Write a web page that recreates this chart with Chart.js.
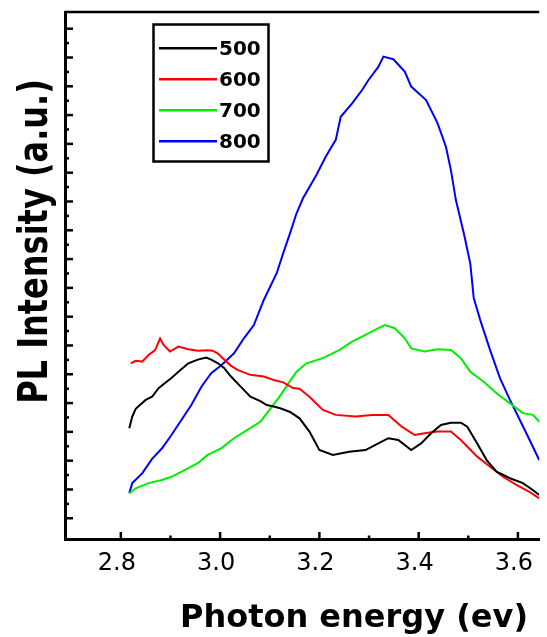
<!DOCTYPE html>
<html><head><meta charset="utf-8">
<script src="https://cdn.jsdelivr.net/npm/chart.js@4.4.1/dist/chart.umd.min.js"></script>
<style>html,body{margin:0;padding:0;background:#fff;overflow:hidden}</style>
</head><body>
<canvas id="c" width="547" height="637"></canvas>
<script>
const seriesLabels = ['500', '600', '700', '800'];
const seriesColors = ['#000000', '#ff0000', '#00ee00', '#0000ff'];

const energy500 = [2.817,2.823,2.830,2.850,2.863,2.876,2.889,2.902,2.916,2.936,2.955,2.972,2.982,2.995,3.008,3.021,3.041,3.061,3.081,3.094,3.108,3.121,3.141,3.160,3.180,3.200,3.227,3.260,3.293,3.313,3.339,3.359,3.385,3.405,3.425,3.445,3.465,3.485,3.498,3.518,3.537,3.557,3.584,3.610,3.630,3.643];
const intensity500 = [3.13,3.53,3.80,4.11,4.22,4.52,4.70,4.87,5.09,5.38,5.51,5.58,5.51,5.39,5.22,4.94,4.58,4.22,4.07,3.93,3.88,3.82,3.69,3.47,3.01,2.37,2.20,2.31,2.37,2.55,2.78,2.72,2.37,2.60,2.95,3.24,3.32,3.32,3.18,2.60,2.02,1.62,1.39,1.22,0.98,0.81];

const energy600 = [2.820,2.830,2.843,2.856,2.869,2.879,2.886,2.899,2.916,2.936,2.955,2.975,2.985,2.995,3.007,3.021,3.035,3.061,3.088,3.108,3.127,3.147,3.160,3.180,3.207,3.233,3.273,3.306,3.339,3.366,3.392,3.412,3.438,3.465,3.485,3.518,3.544,3.570,3.597,3.623,3.643];
const intensity600 = [5.38,5.47,5.44,5.67,5.84,6.24,6.02,5.79,5.96,5.87,5.82,5.83,5.82,5.73,5.53,5.31,5.15,4.98,4.92,4.80,4.72,4.52,4.50,4.22,3.76,3.59,3.53,3.59,3.59,3.18,2.89,2.95,3.01,3.01,2.72,2.14,1.79,1.44,1.16,0.92,0.69];

const energy700 = [2.817,2.830,2.856,2.883,2.902,2.936,2.955,2.975,3.002,3.028,3.055,3.081,3.101,3.118,3.134,3.154,3.174,3.207,3.240,3.266,3.293,3.319,3.332,3.352,3.372,3.385,3.412,3.438,3.465,3.485,3.504,3.531,3.557,3.584,3.610,3.630,3.643];
const intensity700 = [0.87,1.04,1.22,1.33,1.44,1.74,1.91,2.20,2.43,2.78,3.07,3.35,3.80,4.18,4.59,5.09,5.38,5.56,5.84,6.13,6.37,6.60,6.71,6.60,6.25,5.90,5.79,5.87,5.84,5.56,5.09,4.74,4.34,3.99,3.65,3.59,3.35];

const energy800 = [2.817,2.823,2.843,2.863,2.883,2.902,2.922,2.942,2.962,2.982,3.003,3.028,3.048,3.068,3.088,3.114,3.127,3.141,3.154,3.167,3.194,3.213,3.233,3.243,3.266,3.286,3.299,3.319,3.329,3.349,3.372,3.385,3.415,3.438,3.455,3.465,3.475,3.491,3.504,3.511,3.524,3.544,3.564,3.584,3.617,3.643];
const intensity800 = [0.87,1.22,1.56,2.06,2.43,2.89,3.41,3.93,4.56,5.04,5.32,5.73,6.25,6.71,7.58,8.51,9.20,9.90,10.59,11.11,11.92,12.56,13.14,13.94,14.41,14.87,15.22,15.68,16.03,15.94,15.51,14.99,14.52,13.72,12.90,12.09,11.05,9.90,8.85,7.65,6.89,5.84,4.86,4.11,2.95,2.02];

const xTickValues = [2.8, 3.0, 3.2, 3.4, 3.6];
const xMinorValues = [2.9, 3.1, 3.3, 3.5];
const yMajorValues = [0,1,2,3,4,5,6,7,8,9,10,11,12,13,14,15,16,17];
const yMinorValues = [0.5,1.5,2.5,3.5,4.5,5.5,6.5,7.5,8.5,9.5,10.5,11.5,12.5,13.5,14.5,15.5,16.5];
const xTitle = 'Photon energy (ev)';
const yTitle = 'PL Intensity (a.u.)';

const energies = [energy500, energy600, energy700, energy800];
const intensities = [intensity500, intensity600, intensity700, intensity800];

const datasets = seriesLabels.map((lab, i) => ({
  label: lab,
  data: energies[i].map((e, k) => ({x: e, y: intensities[i][k]})),
  borderColor: seriesColors[i],
  backgroundColor: seriesColors[i],
  borderWidth: 2,
  pointRadius: 0,
  tension: 0,
  fill: false
}));

const decor = {
  id: 'decor',
  afterDraw(chart) {
    const ctx = chart.ctx, a = chart.chartArea;
    const xs = chart.scales.x, ys = chart.scales.y;
    const seg = (x1, y1, x2, y2) => { ctx.beginPath(); ctx.moveTo(x1, y1); ctx.lineTo(x2, y2); ctx.stroke(); };
    ctx.save();
    ctx.strokeStyle = '#000';
    ctx.lineWidth = 2.5;
    seg(a.left, a.top, a.right, a.top);
    xTickValues.forEach(v => { const p = xs.getPixelForValue(v); seg(p, a.bottom, p, a.bottom - 7); });
    xMinorValues.forEach(v => { const p = xs.getPixelForValue(v); seg(p, a.bottom, p, a.bottom - 3.5); });
    yMajorValues.forEach(v => { const p = ys.getPixelForValue(v); seg(a.left, p, a.left + 8, p); });
    yMinorValues.forEach(v => { const p = ys.getPixelForValue(v); seg(a.left, p, a.left + 4, p); });

    // axis titles
    ctx.fillStyle = '#000';
    ctx.font = 'bold 32px "DejaVu Sans"';
    ctx.textAlign = 'center';
    ctx.textBaseline = 'alphabetic';
    ctx.fillText(xTitle, 354, 627);
    ctx.save();
    ctx.translate(47, 241.5);
    ctx.rotate(-Math.PI / 2);
    ctx.scale(1, 1.3);
    ctx.fillText(yTitle, 0, 0);
    ctx.restore();

    // legend
    const bx = 153.5, by = 24.5, bw = 115, bh = 137;
    ctx.lineWidth = 2.5;
    ctx.strokeRect(bx, by, bw, bh);
    ctx.font = 'bold 20px "DejaVu Sans"';
    ctx.textAlign = 'left';
    ctx.textBaseline = 'middle';
    chart.data.datasets.forEach((ds, i) => {
      const ry = 48.3 + i * 31;
      ctx.strokeStyle = ds.borderColor;
      ctx.lineWidth = 2.5;
      seg(159, ry, 217, ry);
      ctx.fillStyle = '#000';
      ctx.fillText(ds.label, 219, ry + 1);
    });
    ctx.restore();
  }
};

new Chart(document.getElementById('c'), {
  type: 'line',
  data: { datasets },
  options: {
    responsive: false,
    animation: false,
    layout: { padding: { top: 12, left: 0, right: 0, bottom: 0 } },
    plugins: { legend: { display: false }, tooltip: { enabled: false } },
    scales: {
      x: {
        type: 'linear',
        min: 2.6875,
        max: 3.643,
        afterBuildTicks: (s) => { s.ticks = xTickValues.map(v => ({ value: v })); },
        afterFit: (s) => { s.height = 98; },
        grid: { display: false, drawTicks: false },
        border: { display: true, color: '#000', width: 3 },
        ticks: {
          color: '#000',
          font: { family: 'DejaVu Sans', size: 24 },
          padding: 10,
          labelOffset: -4,
          maxRotation: 0,
          autoSkip: false,
          callback: (v) => Number(v).toFixed(1)
        }
      },
      y: {
        type: 'linear',
        min: -0.72,
        max: 17.58,
        afterFit: (s) => { s.width = 65; },
        grid: { display: false, drawTicks: false },
        border: { display: true, color: '#000', width: 3 },
        ticks: { display: false }
      }
    }
  },
  plugins: [decor]
});
</script>
</body></html>
